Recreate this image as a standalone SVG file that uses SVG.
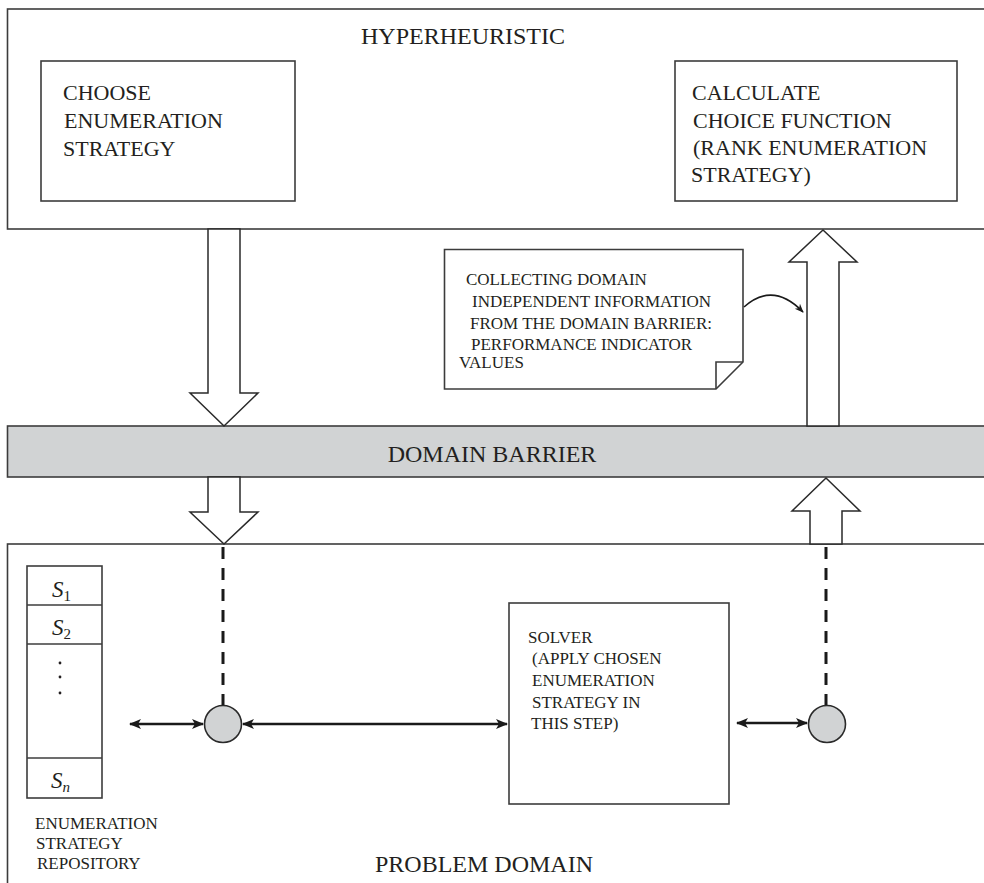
<svg xmlns="http://www.w3.org/2000/svg" width="984" height="883" viewBox="0 0 984 883">
<style>
.box{fill:#fff;stroke:#3c3c3c;stroke-width:1.6}
.bar{fill:#d1d3d4;stroke:#3c3c3c;stroke-width:1.6}
.blk{fill:#fff;stroke:#2a2a2a;stroke-width:1.5;stroke-linejoin:miter}
.t{font-family:"Liberation Serif","Times New Roman",serif;fill:#231f20}
.t24{font-size:24px}
.t22{font-size:22px}
.t17{font-size:17px}
.m{font-family:"Liberation Serif","Times New Roman",serif;font-style:italic;font-size:23px;fill:#231f20}
.sub{font-family:"Liberation Serif","Times New Roman",serif;font-size:15px;fill:#231f20}
.dash{stroke:#1a1a1a;stroke-width:3;stroke-dasharray:12 9;fill:none}
.dbl{stroke:#1a1a1a;stroke-width:2.4;fill:none;marker-start:url(#ah);marker-end:url(#ah)}
.node{fill:#d1d3d4;stroke:#2a2a2a;stroke-width:1.6}
</style>
<defs>
<marker id="ah" viewBox="0 0 12 10" refX="11" refY="5" markerWidth="12" markerHeight="10" markerUnits="userSpaceOnUse" orient="auto-start-reverse">
<path d="M0,0 L12,5 L0,10 L3,5 Z" fill="#1a1a1a"/>
</marker>
<marker id="ch" viewBox="0 0 10 10" refX="9" refY="5" markerWidth="9" markerHeight="9" markerUnits="userSpaceOnUse" orient="auto">
<path d="M0,1 L10,5 L0,9 L3,5 Z" fill="#1a1a1a"/>
</marker>
</defs>

<g id="hyperheuristic">
<rect class="box" x="7.5" y="9" width="990" height="220"/>
<text class="t t24" x="361" y="44">HYPERHEURISTIC</text>
</g>

<g id="choose">
<rect class="box" x="41" y="61" width="254" height="140"/>
<text class="t t22" x="63" y="100">CHOOSE</text>
<text class="t t22" x="64" y="128">ENUMERATION</text>
<text class="t t22" x="63" y="156">STRATEGY</text>
</g>

<g id="calculate">
<rect class="box" x="675" y="61" width="282" height="140"/>
<text class="t t22" x="692" y="100">CALCULATE</text>
<text class="t t22" x="693" y="128">CHOICE FUNCTION</text>
<text class="t t22" x="693" y="155">(RANK ENUMERATION</text>
<text class="t t22" x="691" y="182">STRATEGY)</text>
</g>

<g id="note">
<path class="box" d="M444.5,249.5 H743 V362 L716,389 H444.5 Z"/>
<path d="M743,362 H716 V389" fill="none" stroke="#3c3c3c" stroke-width="1.6"/>
<text class="t t17" x="466" y="285">COLLECTING DOMAIN</text>
<text class="t t17" x="472" y="307">INDEPENDENT INFORMATION</text>
<text class="t t17" x="470" y="329">FROM THE DOMAIN BARRIER:</text>
<text class="t t17" x="471" y="350">PERFORMANCE INDICATOR</text>
<text class="t t17" x="459" y="368">VALUES</text>
</g>

<g id="domain-barrier">
<rect class="bar" x="7.5" y="426" width="990" height="51"/>
<text class="t t24" x="492" y="462" text-anchor="middle">DOMAIN BARRIER</text>
</g>

<g id="problem-domain">
<rect class="box" x="7.5" y="544" width="990" height="360"/>
<text class="t t24" x="484" y="872" text-anchor="middle">PROBLEM DOMAIN</text>
</g>

<g id="repository">
<rect class="box" x="27" y="566" width="75" height="232"/>
<line x1="27" y1="605" x2="102" y2="605" stroke="#3c3c3c" stroke-width="1.6"/>
<line x1="27" y1="644" x2="102" y2="644" stroke="#3c3c3c" stroke-width="1.6"/>
<line x1="27" y1="758" x2="102" y2="758" stroke="#3c3c3c" stroke-width="1.6"/>
<text class="m" x="52" y="597">S<tspan class="sub" font-style="normal" dy="4">1</tspan></text>
<text class="m" x="52" y="635">S<tspan class="sub" font-style="normal" dy="4">2</tspan></text>
<circle cx="60" cy="663" r="1.4" fill="#231f20"/>
<circle cx="60" cy="677" r="1.4" fill="#231f20"/>
<circle cx="60" cy="693" r="1.4" fill="#231f20"/>
<text class="m" x="51" y="788">S<tspan class="sub" font-style="italic" dy="4">n</tspan></text>
<text class="t t17" x="35" y="829">ENUMERATION</text>
<text class="t t17" x="36" y="849">STRATEGY</text>
<text class="t t17" x="37" y="869">REPOSITORY</text>
</g>

<g id="solver">
<rect class="box" x="509" y="603" width="220" height="201"/>
<text class="t t17" x="528" y="643">SOLVER</text>
<text class="t t17" x="532" y="664">(APPLY CHOSEN</text>
<text class="t t17" x="532" y="686">ENUMERATION</text>
<text class="t t17" x="532" y="708">STRATEGY IN</text>
<text class="t t17" x="531" y="729">THIS STEP)</text>
</g>

<g id="node-left">
<circle class="node" cx="223" cy="724" r="18.5"/>
</g>
<g id="node-right">
<circle class="node" cx="827" cy="724" r="18.5"/>
</g>

<g id="connectors">
<polygon class="blk" points="208,229 240,229 240,393 258,393 224,426 190,393 208,393"/>
<polygon class="blk" points="208,477 240,477 240,512 258,512 224,544 190,512 208,512"/>
<polygon class="blk" points="807,426 807,262 789,262 823,230 857,262 839,262 839,426"/>
<polygon class="blk" points="810,544 810,511 792,511 826,478 860,511 842,511 842,544"/>
<path d="M744,307 Q773,281 803,312" fill="none" stroke="#1a1a1a" stroke-width="1.6" marker-end="url(#ch)"/>
<line class="dash" x1="223" y1="547" x2="223" y2="705"/>
<line class="dash" x1="826" y1="547" x2="826" y2="705"/>
<line class="dbl" x1="130" y1="724" x2="203" y2="724"/>
<line class="dbl" x1="243" y1="724" x2="507" y2="724"/>
<line class="dbl" x1="737" y1="723" x2="807" y2="723"/>
</g>
</svg>
